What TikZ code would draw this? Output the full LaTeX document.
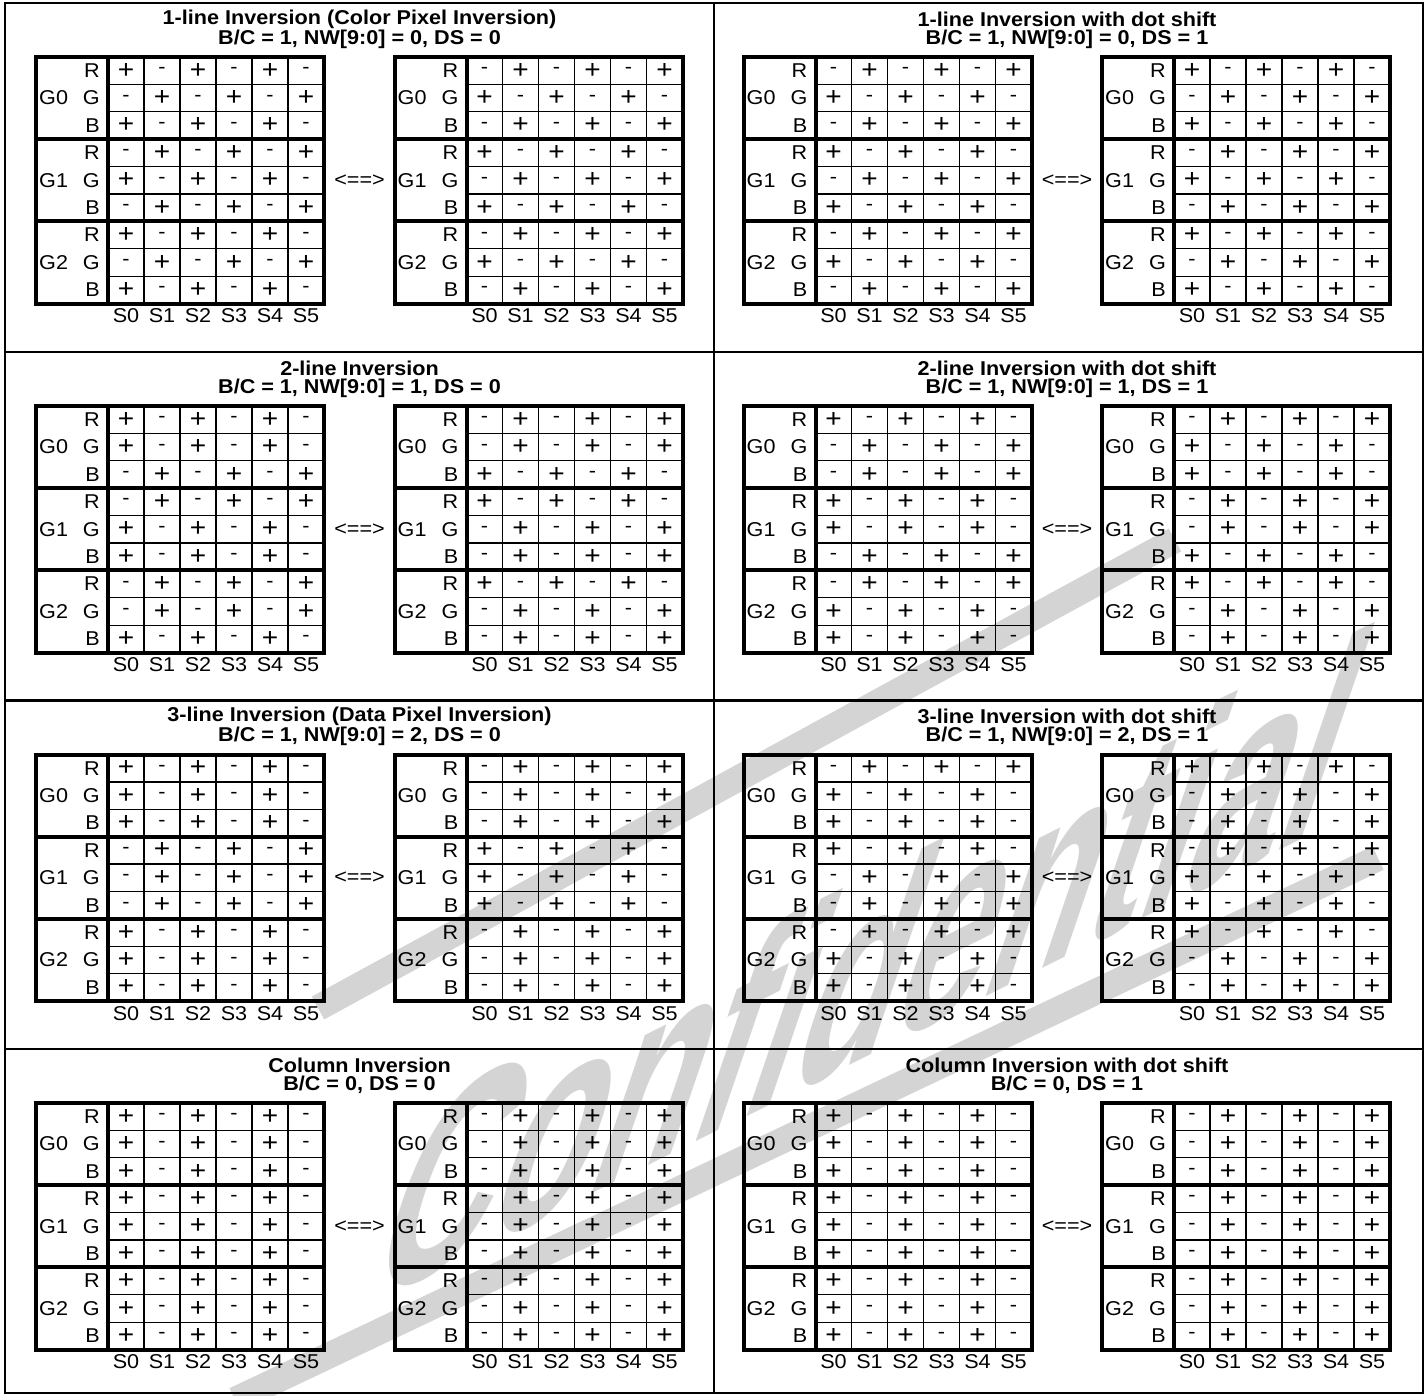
\documentclass[tikz,border=0pt]{standalone}
\usepackage{fontspec}
\setmainfont{Liberation Sans}[FakeStretch=1.08]
\newfontfamily\wmfont{Liberation Sans}[FakeStretch=0.55]
\usepackage{tikz}
\usetikzlibrary{positioning,calc}
\colorlet{wmgray}{black!17}
\tikzset{
  figfont/.style={font=\fontsize{20}{22}\selectfont},
  celltxt/.style={figfont, inner sep=0pt},
  plustxt/.style={font=\fontsize{26}{26}\selectfont, inner sep=0pt},
  titletxt/.style={font=\fontsize{20}{22}\selectfont\bfseries, inner sep=0pt},
  gridthin/.style={line width=1.3pt},
  gridthick/.style={line width=4pt},
  frameline/.style={line width=2.5pt},
  wmband/.style={wmgray, line width=26pt},
  wmtext/.style={wmgray, font=\wmfont\bfseries\fontsize{300}{300}\selectfont, inner sep=0pt},
}

% one polarity table: name, left x, top y, first sign of each row (1 = +, 0 = -)
\newcommand{\invgrid}[4]{%
  \begin{scope}[shift={(#2,#3)}]
    \foreach \r in {1,2,4,5,7,8} \draw[gridthin] (72,\r*27.4) -- (288,\r*27.4);
    \foreach \k in {1,...,5} \draw[gridthin] (72+\k*36,0) -- (72+\k*36,246.6);
    \draw[gridthick] (0,0) rectangle (288,246.6);
    \draw[gridthick] (72,0) -- (72,246.6);
    \draw[gridthick] (0,82.2) -- (288,82.2);
    \draw[gridthick] (0,164.4) -- (288,164.4);
    \foreach \lab [count=\r from 0] in {R,G,B,R,G,B,R,G,B}
      \node[celltxt, anchor=east] (#1-l\r) at (64,13.7+\r*27.4) {\lab};
    \foreach \g in {0,1,2}
      \node[celltxt, anchor=west] (#1-g\g) at (3,41.1+\g*82.2) {G\g};
    \foreach \s [count=\r from 0] in {#4}
      \foreach \c in {0,...,5} {
        \pgfmathtruncatemacro\cellsign{mod(\s+\c,2)}
        \ifnum\cellsign=1
          \node[plustxt] (#1-\r-\c) at (90+\c*36,13.7+\r*27.4) {+};
        \else
          \node[celltxt] (#1-\r-\c) at (90+\c*36,13.7+\r*27.4) {-};
        \fi
      }
    \foreach \c in {0,...,5}
      \node[celltxt] (#1-s\c) at (90+\c*36,259) {S\c};
  \end{scope}
}

% one panel: name, centre x, top y, title, setting, left table, right table
\newcommand{\invpanel}[7]{%
  \node[titletxt] (#1-title) at (#2,#3+16) {#4};
  \node[titletxt] (#1-set) at (#2,#3+36) {#5};
  \invgrid{#1L}{#2-323.5}{#3+54}{#6}
  \invgrid{#1R}{#2+35}{#3+54}{#7}
  \node[celltxt] (#1-eq) at (#2,#3+177.3) {<==>};
}

\begin{document}
\begin{tikzpicture}[x=1pt, y=-1pt]
  \useasboundingbox (0,0) rectangle (1428,1396);

  % watermark
  \draw[wmband] (318,1008) -- (1175,540);
  \draw[wmband] (235,1400) -- (1378,858);
  \node[wmtext, anchor=base west, cm={1,0.5,0.34,1,(0,0)}] (wm) at (360,1310) {Confidential};

  % frame and panel dividers
  \draw[frameline] (5,3) rectangle (1423,1393);
  \draw[frameline] (714,3) -- (714,1393);
  \draw[frameline] (5,352) -- (1423,352);
  \draw[frameline] (5,700.5) -- (1423,700.5);
  \draw[frameline] (5,1049) -- (1423,1049);

  % 1-line inversion
  \invpanel{pa}{359.5}{3}{1-line Inversion (Color Pixel Inversion)}{B/C = 1, NW[9:0] = 0, DS = 0}
    {1,0,1,0,1,0,1,0,1}{0,1,0,1,0,1,0,1,0}
  \invpanel{pb}{1067}{3}{1-line Inversion with dot shift}{B/C = 1, NW[9:0] = 0, DS = 1}
    {0,1,0,1,0,1,0,1,0}{1,0,1,0,1,0,1,0,1}

  % 2-line inversion
  \invpanel{pc}{359.5}{352}{2-line Inversion}{B/C = 1, NW[9:0] = 1, DS = 0}
    {1,1,0,0,1,1,0,0,1}{0,0,1,1,0,0,1,0,0}
  \invpanel{pd}{1067}{352}{2-line Inversion with dot shift}{B/C = 1, NW[9:0] = 1, DS = 1}
    {1,0,0,1,1,0,0,1,1}{0,1,1,0,0,1,1,0,0}

  % 3-line inversion
  \invpanel{pe}{359.5}{700.5}{3-line Inversion (Data Pixel Inversion)}{B/C = 1, NW[9:0] = 2, DS = 0}
    {1,1,1,0,0,0,1,1,1}{0,0,0,1,1,1,0,0,0}
  \invpanel{pf}{1067}{700.5}{3-line Inversion with dot shift}{B/C = 1, NW[9:0] = 2, DS = 1}
    {0,1,1,1,0,0,0,1,1}{1,0,0,0,1,1,1,0,0}

  % column inversion
  \invpanel{pg}{359.5}{1049}{Column Inversion}{B/C = 0, DS = 0}
    {1,1,1,1,1,1,1,1,1}{0,0,0,0,0,0,0,0,0}
  \invpanel{ph}{1067}{1049}{Column Inversion with dot shift}{B/C = 0, DS = 1}
    {1,1,1,1,1,1,1,1,1}{0,0,0,0,0,0,0,0,0}
\end{tikzpicture}
\end{document}
